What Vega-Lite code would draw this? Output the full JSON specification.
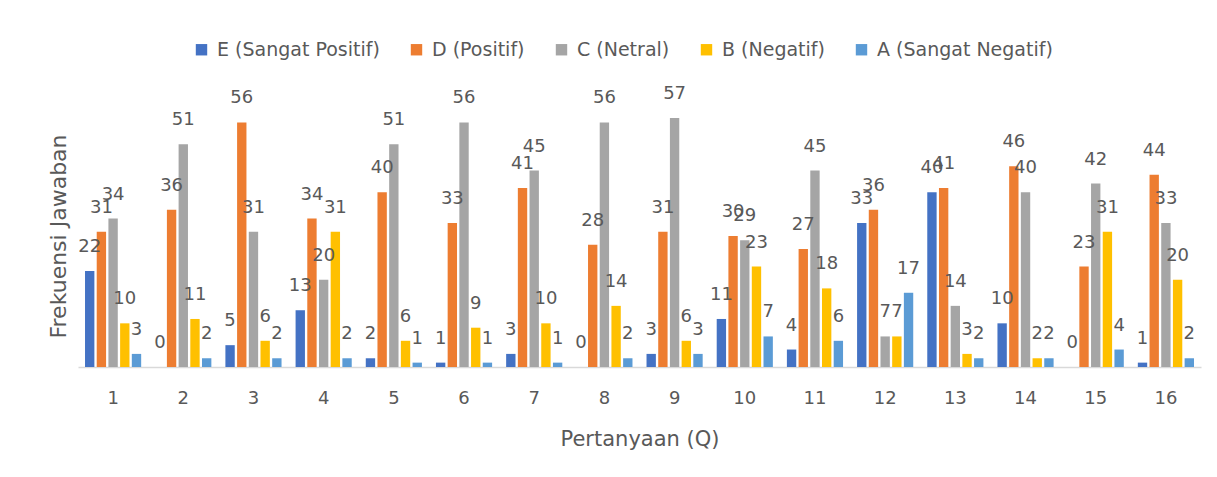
{
  "$schema": "https://vega.github.io/schema/vega-lite/v6.json",
  "width": 1123,
  "height": 262,
  "autosize": "none",
  "padding": {"left": 78, "top": 105, "right": 16, "bottom": 110},
  "background": "white",
  "config": {
    "view": {"stroke": null},
    "font": "DejaVu Sans",
    "text": {"font": "DejaVu Sans"}
  },
  "data": {
    "values": [
      {"q": "1", "cat": "E (Sangat Positif)", "v": 22}, {"q": "1", "cat": "D (Positif)", "v": 31}, {"q": "1", "cat": "C (Netral)", "v": 34}, {"q": "1", "cat": "B (Negatif)", "v": 10}, {"q": "1", "cat": "A (Sangat Negatif)", "v": 3},
      {"q": "2", "cat": "E (Sangat Positif)", "v": 0}, {"q": "2", "cat": "D (Positif)", "v": 36}, {"q": "2", "cat": "C (Netral)", "v": 51}, {"q": "2", "cat": "B (Negatif)", "v": 11}, {"q": "2", "cat": "A (Sangat Negatif)", "v": 2},
      {"q": "3", "cat": "E (Sangat Positif)", "v": 5}, {"q": "3", "cat": "D (Positif)", "v": 56}, {"q": "3", "cat": "C (Netral)", "v": 31}, {"q": "3", "cat": "B (Negatif)", "v": 6}, {"q": "3", "cat": "A (Sangat Negatif)", "v": 2},
      {"q": "4", "cat": "E (Sangat Positif)", "v": 13}, {"q": "4", "cat": "D (Positif)", "v": 34}, {"q": "4", "cat": "C (Netral)", "v": 20}, {"q": "4", "cat": "B (Negatif)", "v": 31}, {"q": "4", "cat": "A (Sangat Negatif)", "v": 2},
      {"q": "5", "cat": "E (Sangat Positif)", "v": 2}, {"q": "5", "cat": "D (Positif)", "v": 40}, {"q": "5", "cat": "C (Netral)", "v": 51}, {"q": "5", "cat": "B (Negatif)", "v": 6}, {"q": "5", "cat": "A (Sangat Negatif)", "v": 1},
      {"q": "6", "cat": "E (Sangat Positif)", "v": 1}, {"q": "6", "cat": "D (Positif)", "v": 33}, {"q": "6", "cat": "C (Netral)", "v": 56}, {"q": "6", "cat": "B (Negatif)", "v": 9}, {"q": "6", "cat": "A (Sangat Negatif)", "v": 1},
      {"q": "7", "cat": "E (Sangat Positif)", "v": 3}, {"q": "7", "cat": "D (Positif)", "v": 41}, {"q": "7", "cat": "C (Netral)", "v": 45}, {"q": "7", "cat": "B (Negatif)", "v": 10}, {"q": "7", "cat": "A (Sangat Negatif)", "v": 1},
      {"q": "8", "cat": "E (Sangat Positif)", "v": 0}, {"q": "8", "cat": "D (Positif)", "v": 28}, {"q": "8", "cat": "C (Netral)", "v": 56}, {"q": "8", "cat": "B (Negatif)", "v": 14}, {"q": "8", "cat": "A (Sangat Negatif)", "v": 2},
      {"q": "9", "cat": "E (Sangat Positif)", "v": 3}, {"q": "9", "cat": "D (Positif)", "v": 31}, {"q": "9", "cat": "C (Netral)", "v": 57}, {"q": "9", "cat": "B (Negatif)", "v": 6}, {"q": "9", "cat": "A (Sangat Negatif)", "v": 3},
      {"q": "10", "cat": "E (Sangat Positif)", "v": 11}, {"q": "10", "cat": "D (Positif)", "v": 30}, {"q": "10", "cat": "C (Netral)", "v": 29}, {"q": "10", "cat": "B (Negatif)", "v": 23}, {"q": "10", "cat": "A (Sangat Negatif)", "v": 7},
      {"q": "11", "cat": "E (Sangat Positif)", "v": 4}, {"q": "11", "cat": "D (Positif)", "v": 27}, {"q": "11", "cat": "C (Netral)", "v": 45}, {"q": "11", "cat": "B (Negatif)", "v": 18}, {"q": "11", "cat": "A (Sangat Negatif)", "v": 6},
      {"q": "12", "cat": "E (Sangat Positif)", "v": 33}, {"q": "12", "cat": "D (Positif)", "v": 36}, {"q": "12", "cat": "C (Netral)", "v": 7}, {"q": "12", "cat": "B (Negatif)", "v": 7}, {"q": "12", "cat": "A (Sangat Negatif)", "v": 17},
      {"q": "13", "cat": "E (Sangat Positif)", "v": 40}, {"q": "13", "cat": "D (Positif)", "v": 41}, {"q": "13", "cat": "C (Netral)", "v": 14}, {"q": "13", "cat": "B (Negatif)", "v": 3}, {"q": "13", "cat": "A (Sangat Negatif)", "v": 2},
      {"q": "14", "cat": "E (Sangat Positif)", "v": 10}, {"q": "14", "cat": "D (Positif)", "v": 46}, {"q": "14", "cat": "C (Netral)", "v": 40}, {"q": "14", "cat": "B (Negatif)", "v": 2}, {"q": "14", "cat": "A (Sangat Negatif)", "v": 2},
      {"q": "15", "cat": "E (Sangat Positif)", "v": 0}, {"q": "15", "cat": "D (Positif)", "v": 23}, {"q": "15", "cat": "C (Netral)", "v": 42}, {"q": "15", "cat": "B (Negatif)", "v": 31}, {"q": "15", "cat": "A (Sangat Negatif)", "v": 4},
      {"q": "16", "cat": "E (Sangat Positif)", "v": 1}, {"q": "16", "cat": "D (Positif)", "v": 44}, {"q": "16", "cat": "C (Netral)", "v": 33}, {"q": "16", "cat": "B (Negatif)", "v": 20}, {"q": "16", "cat": "A (Sangat Negatif)", "v": 2}
    ]
  },
  "encoding": {
    "x": {
      "field": "q", "type": "ordinal",
      "sort": ["1","2","3","4","5","6","7","8","9","10","11","12","13","14","15","16"],
      "scale": {"paddingInner": 0.2, "paddingOuter": 0.1},
      "axis": {
        "title": "Pertanyaan (Q)", "labelAngle": 0, "ticks": false,
        "domainColor": "#d9d9d9", "domainWidth": 1.5,
        "labelFontSize": 18, "labelColor": "#595959", "labelPadding": 22,
        "titleFontSize": 21, "titleColor": "#595959", "titleFontWeight": "normal", "titlePadding": 21
      }
    },
    "xOffset": {
      "field": "cat", "type": "nominal",
      "sort": ["E (Sangat Positif)", "D (Positif)", "C (Netral)", "B (Negatif)", "A (Sangat Negatif)"],
      "scale": {"paddingInner": 0.2}
    },
    "y": {
      "field": "v", "type": "quantitative",
      "scale": {"domain": [0, 60]},
      "axis": {
        "title": "Frekuensi Jawaban", "labels": false, "ticks": false, "domain": false, "grid": false,
        "titleFontSize": 22, "titleColor": "#595959", "titleFontWeight": "normal", "titlePadding": 8
      }
    }
  },
  "layer": [
    {
      "mark": {"type": "bar"},
      "encoding": {
        "color": {
          "field": "cat", "type": "nominal",
          "sort": ["E (Sangat Positif)", "D (Positif)", "C (Netral)", "B (Negatif)", "A (Sangat Negatif)"],
          "scale": {
            "domain": ["E (Sangat Positif)", "D (Positif)", "C (Netral)", "B (Negatif)", "A (Sangat Negatif)"],
            "range": ["#4472C4", "#ED7D31", "#A5A5A5", "#FFC000", "#5B9BD5"]
          },
          "legend": {
            "title": null, "orient": "none", "direction": "horizontal",
            "legendX": 114, "legendY": -65, "labelLimit": 400,
            "symbolType": "square", "symbolSize": 130, "symbolStrokeWidth": 0,
            "labelFontSize": 19, "labelColor": "#595959", "columnPadding": 27, "labelOffset": 6
          }
        }
      }
    },
    {
      "mark": {"type": "text", "baseline": "alphabetic", "dy": -19, "fontSize": 18, "color": "#595959"},
      "encoding": {"text": {"field": "v", "type": "quantitative"}}
    }
  ]
}
